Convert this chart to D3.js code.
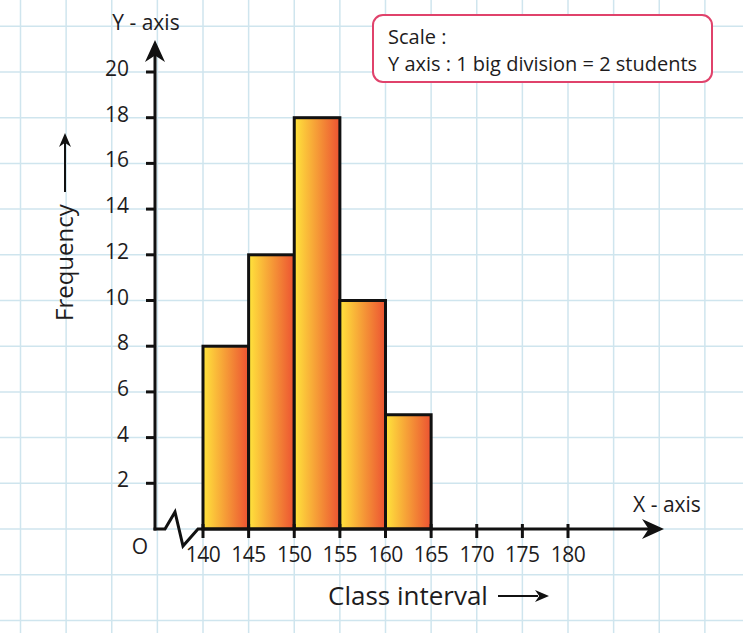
<!DOCTYPE html>
<html>
<head>
<meta charset="utf-8">
<script src="https://cdn.jsdelivr.net/npm/d3@7"></script>
<style>
  body { margin: 0; background: #fff; }
  text { font-family: "Open Sans", sans-serif; fill: #1e1c1d; }
</style>
</head>
<body>
<div id="chart"></div>
<script>
// histogram data: class intervals and their frequencies
const classStarts = [140, 145, 150, 155, 160];
const frequencies = [8, 12, 18, 10, 5];
const classWidth = 5;
const xTicks = [140, 145, 150, 155, 160, 165, 170, 175, 180];
const yTicks = [2, 4, 6, 8, 10, 12, 14, 16, 18, 20];
const scaleNote = ["Scale :", "Y axis : 1 big division = 2 students"];

const width = 743, height = 633;

const svg = d3.select("#chart").append("svg")
    .attr("width", width)
    .attr("height", height);

// scales
const x = d3.scaleLinear().domain([140, 180]).range([203, 568]);
const y = d3.scaleLinear().domain([0, 20]).range([529, 72]);
const originX = 155; // where the y axis sits (before the axis break)

// gradient for the bars
const defs = svg.append("defs");
const grad = defs.append("linearGradient")
    .attr("id", "barGrad")
    .attr("x1", "0%").attr("x2", "100%")
    .attr("y1", "0%").attr("y2", "0%");
grad.append("stop").attr("offset", "0%").attr("stop-color", "#ffe43c");
grad.append("stop").attr("offset", "100%").attr("stop-color", "#ec5232");

// graph paper grid, one line per 5 units on x and 2 units on y
const gridColor = "#cfe5ee";
const gx = d3.range(120, 205, 5);
const gy = d3.range(-4, 24, 2);
svg.append("g").selectAll("line")
    .data(gx).enter().append("line")
    .attr("x1", d => x(d)).attr("x2", d => x(d))
    .attr("y1", 0).attr("y2", height)
    .attr("stroke", gridColor).attr("stroke-width", 1.5);
svg.append("g").selectAll("line")
    .data(gy).enter().append("line")
    .attr("x1", 0).attr("x2", width)
    .attr("y1", d => y(d)).attr("y2", d => y(d))
    .attr("stroke", gridColor).attr("stroke-width", 1.5);

// bars
svg.append("g").selectAll("rect")
    .data(classStarts).enter().append("rect")
    .attr("x", d => x(d))
    .attr("y", (d, i) => y(frequencies[i]))
    .attr("width", d => x(d + classWidth) - x(d))
    .attr("height", (d, i) => y(0) - y(frequencies[i]))
    .attr("fill", "url(#barGrad)")
    .attr("stroke", "#111")
    .attr("stroke-width", 3);

const ink = "#111";

// arrow head helper (slightly concave head)
function arrowHead(g, tipX, tipY, dir, len, half) {
    let p;
    if (dir === "up") {
        p = [[tipX, tipY], [tipX + half, tipY + len], [tipX, tipY + len * 0.7], [tipX - half, tipY + len]];
    } else {
        p = [[tipX, tipY], [tipX - len, tipY - half], [tipX - len * 0.7, tipY], [tipX - len, tipY + half]];
    }
    g.append("path").attr("d", "M" + p.join("L") + "Z").attr("fill", ink);
}

const axes = svg.append("g");

// y axis
axes.append("line")
    .attr("x1", originX).attr("x2", originX)
    .attr("y1", y(0) + 1.5).attr("y2", 50)
    .attr("stroke", ink).attr("stroke-width", 3);
arrowHead(axes, originX, 40, "up", 22, 10);

// x axis with break zigzag
const y0 = y(0);
axes.append("path")
    .attr("d", `M${originX - 1.5},${y0} L${originX + 10},${y0} L${originX + 20},${y0 - 17} L${originX + 28},${y0 + 17} L${originX + 43},${y0} L653,${y0}`)
    .attr("fill", "none")
    .attr("stroke", ink).attr("stroke-width", 3)
    .attr("stroke-linejoin", "miter");
arrowHead(axes, 664, y0, "right", 22, 10);

// y ticks and labels
axes.selectAll(".ytick")
    .data(yTicks).enter().append("line")
    .attr("class", "ytick")
    .attr("x1", originX - 9).attr("x2", originX)
    .attr("y1", d => y(d)).attr("y2", d => y(d))
    .attr("stroke", ink).attr("stroke-width", 3);
axes.selectAll(".ylab")
    .data(yTicks).enter().append("text")
    .attr("class", "ylab")
    .attr("x", 129)
    .attr("y", d => y(d) + 4)
    .attr("text-anchor", "end")
    .attr("font-size", 21)
    .text(d => d);

// x ticks and labels
axes.selectAll(".xtick")
    .data(xTicks).enter().append("line")
    .attr("class", "xtick")
    .attr("x1", d => x(d)).attr("x2", d => x(d))
    .attr("y1", y0 - 5).attr("y2", y0 + 9)
    .attr("stroke", ink).attr("stroke-width", 3);
axes.selectAll(".xlab")
    .data(xTicks).enter().append("text")
    .attr("class", "xlab")
    .attr("x", d => x(d))
    .attr("y", 562)
    .attr("text-anchor", "middle")
    .attr("font-size", 21)
    .attr("letter-spacing", -0.5)
    .text(d => d);

// origin label
svg.append("text").attr("x", 140).attr("y", 554)
    .attr("text-anchor", "middle").attr("font-size", 21).text("O");

// axis names
svg.append("text").attr("x", 146).attr("y", 30)
    .attr("text-anchor", "middle").attr("font-size", 21).text("Y - axis");
svg.append("text").attr("x", 667).attr("y", 512)
    .attr("text-anchor", "middle").attr("font-size", 21).text("X - axis");

// x title with arrow
svg.append("text").attr("x", 328).attr("y", 605)
    .attr("font-size", 26).text("Class interval");
svg.append("line")
    .attr("x1", 498).attr("x2", 538)
    .attr("y1", 596).attr("y2", 596)
    .attr("stroke", ink).attr("stroke-width", 2);
arrowHead(svg, 549, 596, "right", 14, 6);

// y title with arrow
svg.append("text")
    .attr("transform", "translate(73,321) rotate(-90)")
    .attr("font-size", 24).text("Frequency");
svg.append("line")
    .attr("x1", 65).attr("x2", 65)
    .attr("y1", 192).attr("y2", 143)
    .attr("stroke", ink).attr("stroke-width", 2);
arrowHead(svg, 65, 133, "up", 14, 6);

// scale note box
const note = svg.append("g");
note.append("rect")
    .attr("x", 373).attr("y", 15)
    .attr("width", 339).attr("height", 67)
    .attr("rx", 10)
    .attr("fill", "#fff")
    .attr("stroke", "#e0426b").attr("stroke-width", 2);
note.selectAll("text")
    .data(scaleNote).enter().append("text")
    .attr("x", 388)
    .attr("y", (d, i) => 44 + i * 27)
    .attr("font-size", 20)
    .text(d => d);
</script>
</body>
</html>
